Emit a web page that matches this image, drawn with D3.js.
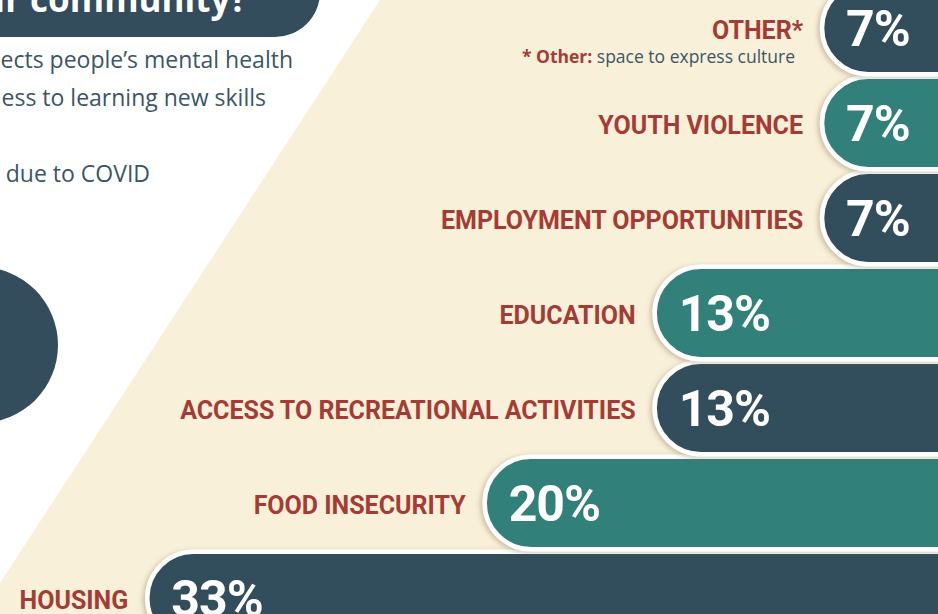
<!DOCTYPE html>
<html>
<head>
<meta charset="utf-8">
<script src="https://cdn.jsdelivr.net/npm/d3@7/dist/d3.min.js"></script>
<style>
  html, body { margin: 0; padding: 0; background: #ffffff; overflow: hidden; }
  svg { display: block; }
</style>
</head>
<body>
<svg id="chart" width="938" height="614"></svg>
<script>
// ---- data ----
const categories = ["OTHER*", "YOUTH VIOLENCE", "EMPLOYMENT OPPORTUNITIES", "EDUCATION",
                    "ACCESS TO RECREATIONAL ACTIVITIES", "FOOD INSECURITY", "HOUSING"];
const values = [6.7, 6.7, 6.7, 13.3, 13.3, 20, 33.3];
const valueLabels = ["7%", "7%", "7%", "13%", "13%", "20%", "33%"];
const footnoteParts = ["* Other:", " space to express culture"];
const titleText = "our community?";
const introLines = ["ects people\u2019s mental health", "ess to learning new skills", "due to COVID"];

// ---- styles ----
const W = 938, H = 614;
const C = {
  dark: "#334d5c", teal: "#31807a", red: "#a53b35", cream: "#f9f0d9",
  text: "#3b5666", white: "#ffffff"
};
const labelFont = "Roboto, 'Open Sans', sans-serif";
const numFont = "Roboto, 'Open Sans', sans-serif";
const bodyFont = "'Open Sans', Roboto, sans-serif";

const svg = d3.select("#chart");

// shadow filter
const defs = svg.append("defs");
const f = defs.append("filter").attr("id", "sh").attr("x", "-10%").attr("y", "-30%").attr("width", "130%").attr("height", "160%");
f.append("feDropShadow").attr("dx", -2).attr("dy", 1.5).attr("stdDeviation", 2.8)
  .attr("flood-color", "#6b5a3a").attr("flood-opacity", 0.35);

// cream background panel
svg.append("path")
  .attr("d", d3.line()([[380, 0], [W, 0], [W, H], [0, H], [0, 583]]) + "Z")
  .attr("fill", C.cream);

// left decorations
svg.append("rect").attr("x", -60).attr("y", -53).attr("width", 380).attr("height", 90)
  .attr("rx", 45).attr("fill", C.dark);
svg.append("text").attr("x", 247).attr("y", 12).attr("text-anchor", "end")
  .attr("font-family", "'Open Sans', Roboto, sans-serif").attr("font-weight", 700)
  .attr("font-size", 35).attr("fill", C.white).text(titleText);

const introY = [68, 106, 182];
const introX = [293, 266, 150];
svg.selectAll("text.intro").data(introLines).join("text")
  .attr("class", "intro")
  .attr("x", (d, i) => introX[i]).attr("y", (d, i) => introY[i])
  .attr("text-anchor", "end")
  .attr("font-family", bodyFont).attr("font-size", 23).attr("fill", C.text)
  .text(d => d);

svg.append("circle").attr("cx", -20).attr("cy", 345).attr("r", 78).attr("fill", C.dark);

// ---- scales ----
const x = d3.scaleLinear().domain([0, 33.3]).range([992, 147.3]);
const y = d3.scaleBand().domain(categories).range([-19.5, 645.5]).paddingInner(0).paddingOuter(0);
const barH = 92.5;
const cy = d => y(d) + y.bandwidth() / 2;

const rows = categories.map((c, i) => ({ c, v: values[i], lab: valueLabels[i], i }));

// bars: draw bottom-first so upper bars sit on top
const g = svg.append("g");
const barsOrder = rows.slice().reverse();
g.selectAll("rect.bar").data(barsOrder).join("rect")
  .attr("class", "bar")
  .attr("x", d => x(d.v))
  .attr("y", d => cy(d.c) - barH / 2)
  .attr("width", d => W + 120 - x(d.v))
  .attr("height", barH)
  .attr("rx", barH / 2)
  .attr("fill", d => d.i % 2 === 0 ? C.dark : C.teal)
  .attr("stroke", C.white).attr("stroke-width", 4.5)
  .attr("filter", "url(#sh)");

// value labels
svg.selectAll("text.val").data(rows).join("text")
  .attr("class", "val")
  .attr("x", d => x(d.v) + 24)
  .attr("y", d => cy(d.c) + 18)
  .attr("font-family", numFont).attr("font-weight", 700).attr("font-size", 50)
  .attr("letter-spacing", -1)
  .attr("fill", C.white)
  .text(d => d.lab);

// category labels
svg.selectAll("text.cat").data(rows).join("text")
  .attr("class", "cat")
  .attr("x", d => x(d.v) - 19)
  .attr("y", d => cy(d.c) + 11)
  .attr("text-anchor", "end")
  .attr("font-family", labelFont).attr("font-weight", 700).attr("font-size", 25)
  .attr("fill", C.red)
  .text(d => d.c);

// footnote under OTHER*
const fn = svg.append("text")
  .attr("x", x(values[0]) - 27).attr("y", cy(categories[0]) + 35)
  .attr("text-anchor", "end")
  .attr("font-family", bodyFont).attr("font-size", 17.5);
fn.append("tspan").attr("font-weight", 700).attr("fill", C.red).text(footnoteParts[0]);
fn.append("tspan").attr("fill", C.text).text(footnoteParts[1]);
</script>
</body>
</html>
